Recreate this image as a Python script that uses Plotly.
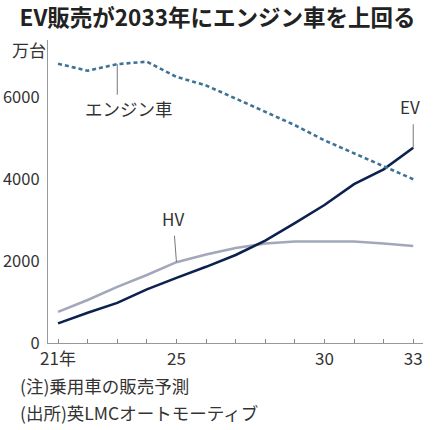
import plotly.graph_objects as go

# data (万台), passenger car sales forecast
years = [2021, 2022, 2023, 2024, 2025, 2026, 2027, 2028, 2029, 2030, 2031, 2032, 2033]
engine = [6820, 6650, 6810, 6870, 6500, 6290, 5970, 5640, 5320, 4950, 4630, 4320, 4000]
ev = [480, 740, 980, 1310, 1590, 1860, 2150, 2500, 2930, 3370, 3880, 4240, 4770]
hv = [760, 1050, 1370, 1660, 1975, 2160, 2320, 2430, 2480, 2480, 2480, 2430, 2370]

xtick_text = ['21年', '', '', '', '25', '', '', '', '', '30', '', '', '33']
ytick_vals = [0, 2000, 4000, 6000]

font_jp = 'Noto Sans CJK JP'
txt_color = '#333333'

fig = go.Figure()

fig.add_trace(go.Scatter(
    x=years, y=hv, mode='lines', name='HV',
    line=dict(color='#a3a7ba', width=2.6)
))
fig.add_trace(go.Scatter(
    x=years, y=ev, mode='lines', name='EV',
    line=dict(color='#0c2150', width=2.6)
))
fig.add_trace(go.Scatter(
    x=years, y=engine, mode='lines', name='エンジン車',
    line=dict(color='#3e7395', width=2.6, dash='4px,3px')
))

# labels with leader lines
anns = []
anns.append(dict(x=years[2], y=engine[2], text=' ', showarrow=True, arrowhead=0,
                 arrowwidth=1, arrowcolor='#777777', ax=0, ay=44, standoff=0))
anns.append(dict(x=years[2], y=engine[2], text='エンジン車', showarrow=False,
                 xshift=12, yshift=-44, font=dict(size=17.5, color=txt_color, family=font_jp)))
anns.append(dict(x=years[-1], y=ev[-1], text=' ', showarrow=True, arrowhead=0,
                 arrowwidth=1, arrowcolor='#777777', ax=0, ay=-37, standoff=0))
anns.append(dict(x=years[-1], y=ev[-1], text='EV', showarrow=False,
                 xshift=-3, yshift=41, font=dict(size=17, color=txt_color, family=font_jp)))
anns.append(dict(x=years[4], y=hv[4], text=' ', showarrow=True, arrowhead=0,
                 arrowwidth=1, arrowcolor='#777777', ax=-3, ay=-40, standoff=0))
anns.append(dict(x=years[4], y=hv[4], text='HV', showarrow=False,
                 xshift=-3, yshift=44, font=dict(size=17, color=txt_color, family=font_jp)))

# unit + notes
anns.append(dict(xref='paper', yref='paper', x=-0.101, y=0.967, xanchor='left', yanchor='middle',
                 text='万台', showarrow=False, font=dict(size=17, color=txt_color, family=font_jp)))
anns.append(dict(xref='paper', yref='paper', x=-0.08, y=-0.14, xanchor='left', yanchor='middle',
                 text='(注)乗用車の販売予測', showarrow=False,
                 font=dict(size=17.5, color=txt_color, family=font_jp)))
anns.append(dict(xref='paper', yref='paper', x=-0.08, y=-0.231, xanchor='left', yanchor='middle',
                 text='(出所)英LMCオートモーティブ', showarrow=False,
                 font=dict(size=17.5, color=txt_color, family=font_jp)))

fig.update_layout(
    width=435, height=430,
    margin=dict(l=48, r=12, t=40, b=87),
    paper_bgcolor='white', plot_bgcolor='white',
    showlegend=False,
    title=dict(text='<b>EV販売が2033年にエンジン車を上回る</b>', x=0.5, xanchor='center',
               y=0.958, yanchor='middle', font=dict(size=22.5, color='#222222', family=font_jp)),
    font=dict(family=font_jp, size=16, color=txt_color),
    annotations=anns,
    xaxis=dict(
        range=[2020.66, 2033.33], automargin=False,
        tickvals=years, ticktext=xtick_text,
        ticks='inside', ticklen=4, tickcolor='#888888',
        showline=True, linecolor='#999999', linewidth=1.2,
        showgrid=False, zeroline=False,
        tickfont=dict(size=17, color=txt_color)
    ),
    yaxis=dict(
        range=[0, 7400], automargin=False,
        tickvals=ytick_vals,
        showline=True, linecolor='#999999', linewidth=1.2,
        showgrid=False, zeroline=False, ticks='',
        ticklabelstandoff=4,
        tickfont=dict(size=16.5, color=txt_color)
    ),
)

fig.write_html('out.html', config={'displayModeBar': False},
               post_script="document.body.style.margin='0';")
